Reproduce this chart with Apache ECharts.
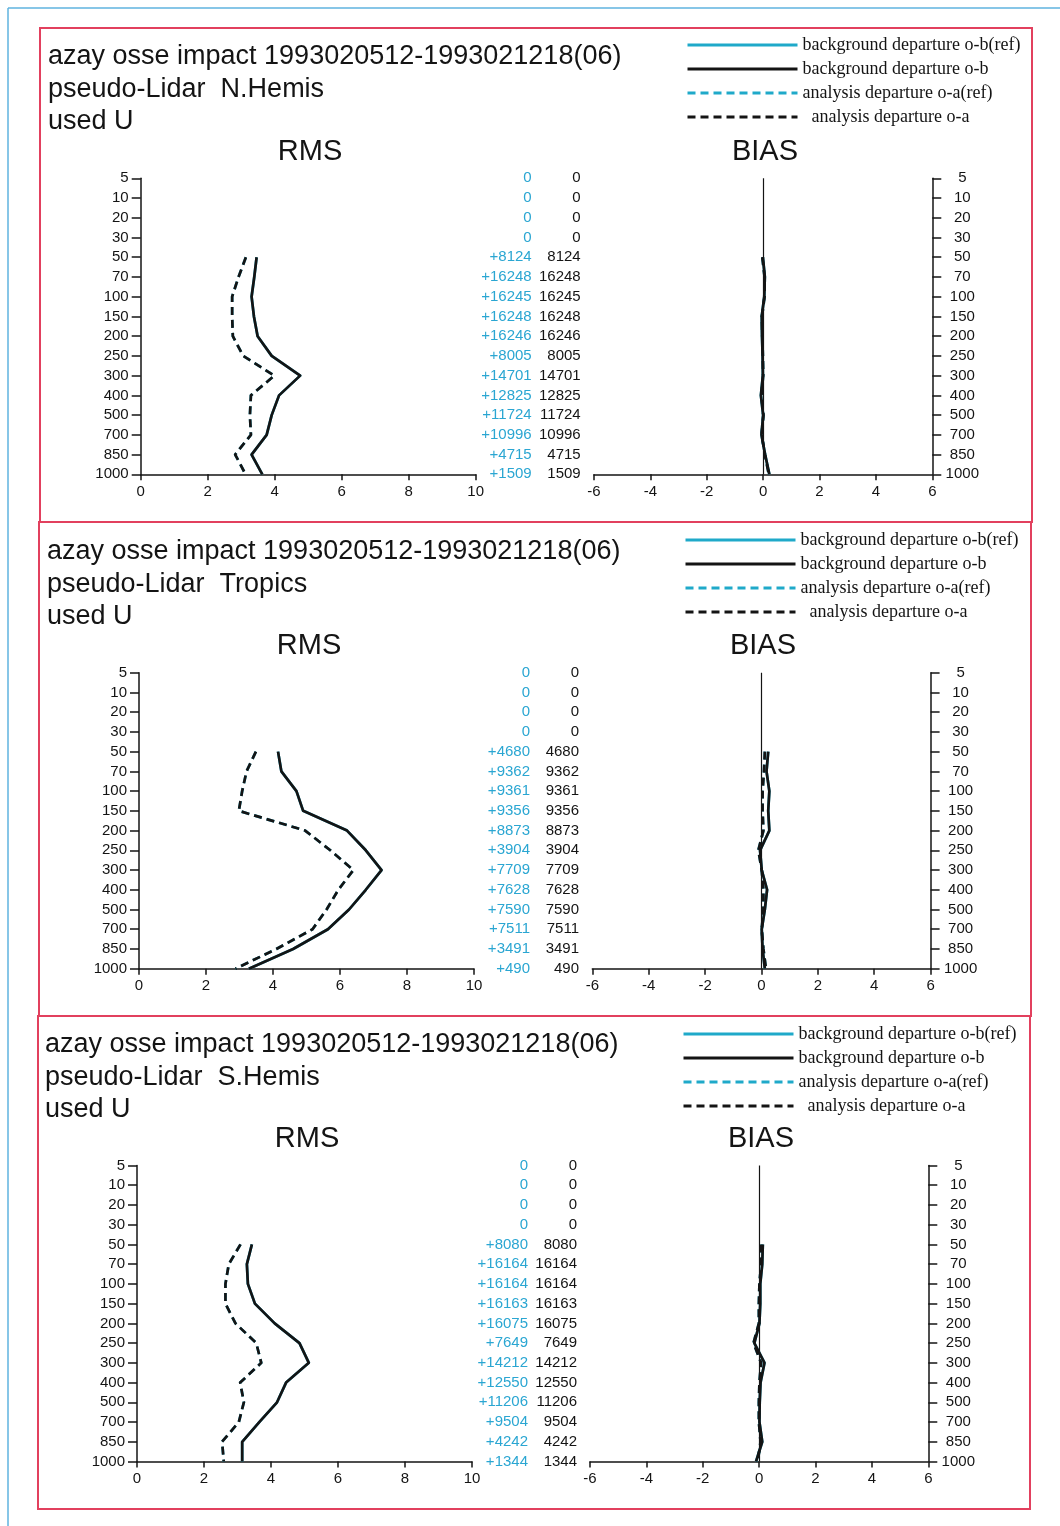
<!DOCTYPE html>
<html>
<head>
<meta charset="utf-8">
<script src="https://cdn.jsdelivr.net/npm/echarts@6/dist/echarts.min.js"></script>
<style>
  html, body { margin: 0; padding: 0; background: #fff; }
  #chart { width: 1060px; height: 1526px; }
</style>
</head>
<body>
<div id="chart"></div>
<script>
// Pressure levels (hPa), top of the profile first
const levels = ['5', '10', '20', '30', '50', '70', '100', '150', '200', '250', '300', '400', '500', '700', '850', '1000'];
const rmsTicks = [0, 2, 4, 6, 8, 10];
const biasTicks = [-6, -4, -2, 0, 2, 4, 6];

// N.Hemis
const rmsObN   = [null, null, null, null, 3.46, 3.39, 3.31, 3.38, 3.49, 3.91, 4.76, 4.13, 3.91, 3.76, 3.31, 3.63];
const rmsOaN   = [null, null, null, null, 3.14, 2.92, 2.73, 2.73, 2.75, 3.06, 3.99, 3.29, 3.26, 3.29, 2.82, 3.13];
const biasObN  = [null, null, null, null, -0.01, 0.06, 0.04, -0.05, -0.04, -0.02, -0.01, -0.08, 0.00, -0.06, 0.07, 0.22];
const biasOaN  = [null, null, null, null, -0.03, 0.05, 0.05, -0.04, -0.03, -0.01, 0.00, -0.06, 0.01, -0.05, 0.06, 0.20];
const countRefN = [0, 0, 0, 0, 8124, 16248, 16245, 16248, 16246, 8005, 14701, 12825, 11724, 10996, 4715, 1509];
const countN    = [0, 0, 0, 0, 8124, 16248, 16245, 16248, 16246, 8005, 14701, 12825, 11724, 10996, 4715, 1509];

// Tropics
const rmsObT   = [null, null, null, null, 4.15, 4.25, 4.70, 4.90, 6.21, 6.77, 7.24, 6.77, 6.27, 5.64, 4.60, 3.28];
const rmsOaT   = [null, null, null, null, 3.49, 3.21, 3.08, 2.98, 4.96, 5.71, 6.40, 5.95, 5.60, 5.18, 4.10, 2.88];
const biasObT  = [null, null, null, null, 0.24, 0.18, 0.28, 0.24, 0.28, -0.05, 0.01, 0.20, 0.12, 0.01, 0.04, 0.12];
const biasOaT  = [null, null, null, null, 0.12, 0.09, 0.04, 0.04, 0.07, -0.11, 0.01, 0.07, 0.07, 0.01, 0.07, 0.16];
const countRefT = [0, 0, 0, 0, 4680, 9362, 9361, 9356, 8873, 3904, 7709, 7628, 7590, 7511, 3491, 490];
const countT    = [0, 0, 0, 0, 4680, 9362, 9361, 9356, 8873, 3904, 7709, 7628, 7590, 7511, 3491, 490];

// S.Hemis
const rmsObS   = [null, null, null, null, 3.43, 3.28, 3.31, 3.52, 4.11, 4.85, 5.13, 4.45, 4.18, 3.65, 3.14, 3.14];
const rmsOaS   = [null, null, null, null, 3.09, 2.74, 2.64, 2.64, 2.94, 3.56, 3.71, 3.08, 3.19, 3.04, 2.54, 2.59];
const biasObS  = [null, null, null, null, 0.13, 0.11, 0.04, 0.04, 0.01, -0.17, 0.19, 0.05, 0.02, 0.01, 0.11, -0.11];
const biasOaS  = [null, null, null, null, 0.07, 0.07, 0.01, -0.01, -0.01, -0.20, 0.07, 0.01, -0.01, -0.01, 0.05, -0.05];
const countRefS = [0, 0, 0, 0, 8080, 16164, 16164, 16163, 16075, 7649, 14212, 12550, 11206, 9504, 4242, 1344];
const countS    = [0, 0, 0, 0, 8080, 16164, 16164, 16163, 16075, 7649, 14212, 12550, 11206, 9504, 4242, 1344];

const legendNames = [
  'background departure o-b(ref)',
  'background departure o-b',
  'analysis departure o-a(ref)',
  'analysis departure o-a'
];

const titleLine1 = 'azay osse impact 1993020512-1993021218(06)';

// The reference run coincides with the experiment, so its curves sit under the black ones.
const panels = [
  { region: 'N.Hemis', rmsOb: rmsObN, rmsOa: rmsOaN, biasOb: biasObN, biasOa: biasOaN, cntRef: countRefN, cnt: countN,
    top: 178.3, rmsLeft: 140.7, biasLeft: 594, frame: [40, 28, 992, 494], titleX: 48, titleY: 57,
    headY: 152, rmsHeadX: 310, biasHeadX: 765, legendX: 686, legendY: 35 },
  { region: 'Tropics', rmsOb: rmsObT, rmsOa: rmsOaT, biasOb: biasObT, biasOa: biasOaT, cntRef: countRefT, cnt: countT,
    top: 672.7, rmsLeft: 139, biasLeft: 592.3, frame: [39, 522, 992, 494], titleX: 47, titleY: 552,
    headY: 646, rmsHeadX: 309, biasHeadX: 763, legendX: 684, legendY: 530 },
  { region: 'S.Hemis', rmsOb: rmsObS, rmsOa: rmsOaS, biasOb: biasObS, biasOa: biasOaS, cntRef: countRefS, cnt: countS,
    top: 1165.5, rmsLeft: 137, biasLeft: 590, frame: [38, 1016, 992, 493], titleX: 45, titleY: 1045,
    headY: 1139, rmsHeadX: 307, biasHeadX: 761, legendX: 682, legendY: 1024 }
];

const SANS = "'Liberation Sans', Arial, Helvetica, sans-serif";
const SERIF = "'Liberation Serif', 'Times New Roman', serif";
const INK = '#141414';
const CYAN_TEXT = '#2aa6d2';
const CYAN_LINE = '#1fa9c9';
const RED = '#e2405e';
const BLUE = '#5fb3df';

const grids = [], xAxes = [], yAxes = [], series = [], legends = [], graphics = [];

const axisLineStyle = { color: INK, width: 1.5 };
const labelStyle = { color: INK, fontFamily: SANS, fontSize: 15 };

function levelAxis(gridIndex, position, labelOpts) {
  return {
    type: 'category', gridIndex, position, data: levels, inverse: true, boundaryGap: false,
    axisLine: { show: true, onZero: false, lineStyle: axisLineStyle },
    axisTick: { show: true, inside: false, length: 9, interval: 0, lineStyle: axisLineStyle },
    axisLabel: Object.assign({ interval: 0 }, labelStyle, labelOpts),
    splitLine: { show: false }
  };
}

function countAxis(gridIndex, values, color, margin, plus) {
  return {
    type: 'category', gridIndex, position: 'right', data: levels, inverse: true, boundaryGap: false,
    axisLine: { show: false, onZero: false }, axisTick: { show: false },
    axisLabel: {
      interval: 0, align: 'right', margin, color, fontFamily: SANS, fontSize: 15,
      formatter: (v, i) => (values[i] > 0 && plus ? '+' : '') + values[i]
    },
    splitLine: { show: false }
  };
}

function valueAxis(gridIndex, min, max) {
  return {
    type: 'value', gridIndex, position: 'bottom', min, max, interval: 2,
    axisLine: { show: true, onZero: false, lineStyle: axisLineStyle },
    axisTick: { show: true, inside: false, length: 6, lineStyle: axisLineStyle },
    axisLabel: Object.assign({ margin: 10 }, labelStyle),
    splitLine: { show: false }
  };
}

function profile(name, data, color, dashed, xi, yi, z) {
  return {
    type: 'line', name, data, xAxisIndex: xi, yAxisIndex: yi, z,
    symbol: 'none', showSymbol: false, connectNulls: false, silent: true, animation: false,
    lineStyle: { color, width: 2.7, type: dashed ? [8, 5] : 'solid', join: 'round' },
    itemStyle: { color }
  };
}

panels.forEach((p, k) => {
  const gR = 2 * k, gB = 2 * k + 1;
  grids.push({ left: p.rmsLeft, top: p.top, width: 335, height: 296 });
  grids.push({ left: p.biasLeft, top: p.top, width: 338.3, height: 296 });

  xAxes.push(valueAxis(gR, rmsTicks[0], rmsTicks[rmsTicks.length - 1]));
  xAxes.push(valueAxis(gB, biasTicks[0], biasTicks[biasTicks.length - 1]));

  const yR = 4 * k, yB = 4 * k + 3;
  yAxes.push(levelAxis(gR, 'left', { margin: 12, align: 'right' }));
  yAxes.push(countAxis(gR, p.cntRef, CYAN_TEXT, 56, true));
  yAxes.push(countAxis(gR, p.cnt, INK, 105, false));
  yAxes.push(levelAxis(gB, 'right', { margin: 30, align: 'center' }));

  // RMS profiles
  series.push(profile(legendNames[0], p.rmsOb, CYAN_LINE, false, gR, yR, 2));
  series.push(profile(legendNames[2], p.rmsOa, CYAN_LINE, true, gR, yR, 2));
  series.push(profile(legendNames[1], p.rmsOb, INK, false, gR, yR, 3));
  series.push(profile(legendNames[3], p.rmsOa, INK, true, gR, yR, 3));

  // BIAS profiles with the zero reference line
  const bRef = profile(legendNames[0], p.biasOb, CYAN_LINE, false, gB, yB, 2);
  bRef.markLine = {
    silent: true, symbol: 'none', animation: false, label: { show: false },
    lineStyle: { color: INK, width: 1.2, type: 'solid' },
    data: [{ xAxis: 0 }]
  };
  series.push(bRef);
  series.push(profile(legendNames[2], p.biasOa, CYAN_LINE, true, gB, yB, 2));
  series.push(profile(legendNames[1], p.biasOb, INK, false, gB, yB, 3));
  series.push(profile(legendNames[3], p.biasOa, INK, true, gB, yB, 3));

  legends.push({
    data: legendNames, orient: 'vertical', left: p.legendX, top: p.legendY, padding: 0,
    itemWidth: 110, itemHeight: 14, itemGap: 4, selectedMode: false,
    lineStyle: { width: 3 },
    itemStyle: { color: 'rgba(0,0,0,0)', borderWidth: 0, opacity: 0 },
    formatter: n => (n === legendNames[3] ? '  ' + n : n),
    textStyle: { fontFamily: SERIF, fontSize: 18, lineHeight: 20, color: INK, padding: [0, 0, 0, 0] }
  });

  const [fx, fy, fw, fh] = p.frame;
  graphics.push({ type: 'rect', shape: { x: fx, y: fy, width: fw, height: fh },
    style: { fill: 'none', stroke: RED, lineWidth: 2 }, silent: true });
  graphics.push({ type: 'text', x: p.titleX, y: p.titleY - 16.25, silent: true,
    style: { text: titleLine1 + '\npseudo-Lidar  ' + p.region + '\nused U', fill: INK,
      font: '27px ' + SANS, lineHeight: 32.5, textAlign: 'left', textVerticalAlign: 'top' } });
  graphics.push({ type: 'text', x: p.rmsHeadX, y: p.headY, silent: true,
    style: { text: 'RMS', fill: INK, font: '29px ' + SANS, textAlign: 'center', textVerticalAlign: 'middle' } });
  graphics.push({ type: 'text', x: p.biasHeadX, y: p.headY, silent: true,
    style: { text: 'BIAS', fill: INK, font: '29px ' + SANS, textAlign: 'center', textVerticalAlign: 'middle' } });
});

// Outer page rule
graphics.push({ type: 'line', shape: { x1: 8, y1: 8, x2: 1060, y2: 8 }, style: { stroke: BLUE, lineWidth: 1.5 }, silent: true });
graphics.push({ type: 'line', shape: { x1: 8, y1: 8, x2: 8, y2: 1526 }, style: { stroke: BLUE, lineWidth: 1.5 }, silent: true });

const chart = echarts.init(document.getElementById('chart'), null, { renderer: 'canvas' });
chart.setOption({
  backgroundColor: '#ffffff',
  animation: false,
  grid: grids,
  xAxis: xAxes,
  yAxis: yAxes,
  legend: legends,
  series,
  graphic: graphics
});
</script>
</body>
</html>
